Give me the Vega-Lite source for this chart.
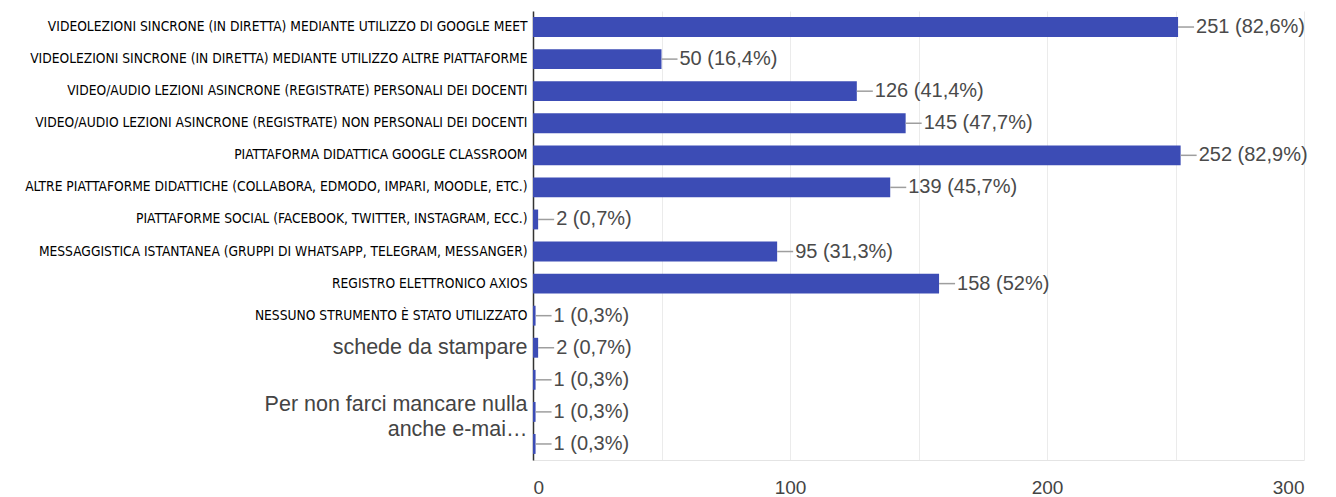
{
  "$schema": "https://vega.github.io/schema/vega-lite/v6.json",
  "width": 771,
  "height": 449,
  "autosize": {"type": "none"},
  "padding": {"left": 533, "top": 11, "right": 32, "bottom": 37},
  "background": "white",
  "config": {"view": {"stroke": null}},
  "data": {
    "values": [
      {"answer": "Videolezioni sincrone (in diretta) mediante utilizzo di Google Meet", "count": 251, "text": "251 (82,6%)"},
      {"answer": "Videolezioni sincrone (in diretta) mediante utilizzo altre piattaforme", "count": 50, "text": "50 (16,4%)"},
      {"answer": "Video/audio lezioni asincrone (registrate) personali dei docenti", "count": 126, "text": "126 (41,4%)"},
      {"answer": "Video/audio lezioni asincrone (registrate) NON personali dei docenti", "count": 145, "text": "145 (47,7%)"},
      {"answer": "Piattaforma didattica Google Classroom", "count": 252, "text": "252 (82,9%)"},
      {"answer": "Altre Piattaforme didattiche (Collabora, Edmodo, Impari, Moodle, etc.)", "count": 139, "text": "139 (45,7%)"},
      {"answer": "Piattaforme social (Facebook, Twitter, Instagram, ecc.)", "count": 2, "text": "2 (0,7%)"},
      {"answer": "Messaggistica Istantanea (gruppi di Whatsapp, Telegram, Messanger)", "count": 95, "text": "95 (31,3%)"},
      {"answer": "Registro elettronico Axios", "count": 158, "text": "158 (52%)"},
      {"answer": "Nessuno strumento è stato utilizzato", "count": 1, "text": "1 (0,3%)"},
      {"answer": "schede da stampare", "count": 2, "text": "2 (0,7%)"},
      {"answer": "Altra risposta A", "count": 1, "text": "1 (0,3%)"},
      {"answer": "Per non farci mancare nulla\nanche e-mai…", "count": 1, "text": "1 (0,3%)"},
      {"answer": "Altra risposta B", "count": 1, "text": "1 (0,3%)"}
    ]
  },
  "encoding": {
    "y": {
      "field": "answer",
      "type": "nominal",
      "sort": null,
      "scale": {"paddingInner": 0.38, "paddingOuter": 0.19},
      "axis": {
        "title": null,
        "ticks": false,
        "domain": true,
        "domainColor": "#333333",
        "domainWidth": 1.5,
        "labelPadding": 6,
        "labelLimit": 0,
        "labelLineHeight": 25,
        "labelExpr": "indexof(datum.value, 'Altra risposta') == 0 ? '' : (datum.value == 'schede da stampare' ? datum.value : (indexof(datum.value, '\\n') >= 0 ? split(datum.value, '\\n') : upper(datum.value)))",
        "labelFont": {"condition": {"test": "datum.value == 'schede da stampare' || indexof(datum.value, '\\n') >= 0", "value": "Liberation Sans"}, "value": "DejaVu Sans Condensed, DejaVu Sans, sans-serif"},
        "labelFontSize": {"condition": {"test": "datum.value == 'schede da stampare' || indexof(datum.value, '\\n') >= 0", "value": 21.5}, "value": 13.7},
        "labelOffset": {"condition": {"test": "indexof(datum.value, '\\n') >= 0", "value": -7}, "value": 0},
        "labelColor": {"condition": {"test": "datum.value == 'schede da stampare' || indexof(datum.value, '\\n') >= 0", "value": "#444444"}, "value": "#000000"}
      }
    }
  },
  "layer": [
    {
      "mark": {"type": "bar", "color": "#3c4cb5"},
      "encoding": {
        "x": {
          "field": "count",
          "type": "quantitative",
          "scale": {"domain": [0, 300]},
          "axis": {
            "title": null,
            "values": [0, 50, 100, 150, 200, 250, 300],
            "labelExpr": "datum.value % 100 == 0 ? datum.label : ''",
            "grid": true,
            "gridColor": "#ebebeb",
            "ticks": false,
            "domain": true,
            "domainColor": "#e4e4e4",
            "labelFont": "Liberation Sans",
            "labelFontSize": 19,
            "labelColor": "#444444",
            "labelPadding": 18
          }
        }
      }
    },
    {
      "mark": {"type": "rule", "color": "#9e9e9e", "strokeWidth": 1.5, "x2Offset": 16},
      "encoding": {
        "x": {"field": "count", "type": "quantitative"},
        "x2": {"field": "count"}
      }
    },
    {
      "mark": {"type": "text", "align": "left", "baseline": "middle", "dx": 18, "fontSize": 20, "font": "Liberation Sans", "color": "#4a4a4a"},
      "encoding": {
        "x": {"field": "count", "type": "quantitative"},
        "text": {"field": "text"}
      }
    }
  ]
}
